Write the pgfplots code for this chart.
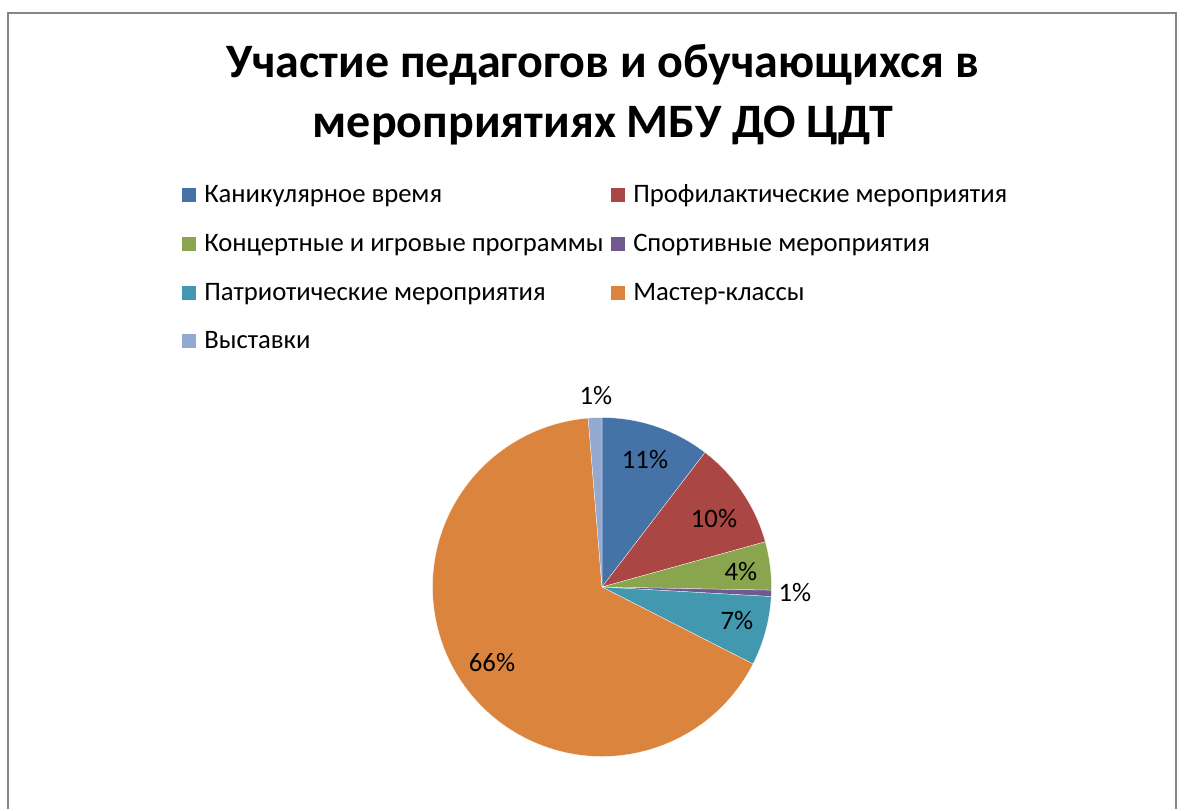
\documentclass[border=0pt]{standalone}
\usepackage{pgfplots}
\pgfplotsset{compat=1.18}
\usepackage{fontspec}
\setmainfont{Carlito}
\definecolor{cA}{HTML}{4572A7}
\definecolor{cB}{HTML}{AA4643}
\definecolor{cC}{HTML}{89A54E}
\definecolor{cD}{HTML}{71588F}
\definecolor{cE}{HTML}{4198AF}
\definecolor{cF}{HTML}{DB843D}
\definecolor{cG}{HTML}{93A9CF}
\definecolor{frame}{HTML}{868686}
\begin{document}
\begin{tikzpicture}
\begin{axis}[scale only axis, width=888pt, height=606.75pt,
  xmin=0, xmax=1184, ymin=0, ymax=809, y dir=reverse, hide axis, clip=false]
\path (axis cs:0,0) rectangle (axis cs:1184,809);
\draw[color=frame, line width=1.5pt] (axis cs:8,809) -- (axis cs:8,13) -- (axis cs:1176,13) -- (axis cs:1176,809);
\node[font=\bfseries\fontsize{36}{45}\selectfont, align=center] at (axis cs:603,95) {Участие педагогов и обучающихся в\\мероприятиях МБУ ДО ЦДТ};
% pie slices (percent values)
\xdef\cum{0}
\foreach \v/\c in {10.4/cA,10.3/cB,4.6/cC,0.6/cD,6.6/cE,66.2/cF,1.3/cG} {
  \pgfmathsetmacro\a{90-3.6*\cum}
  \pgfmathsetmacro\b{90-3.6*(\cum+\v)}
  \edef\tmp{\noexpand\fill[\c, draw=white, line width=0.2pt] (axis cs:602,587) -- ++(\a:127.1pt) arc[start angle=\a, end angle=\b, radius=127.1pt] -- cycle;}
  \tmp
  \pgfmathsetmacro\n{\cum+\v}
  \xdef\cum{\n}
}
% legend
\tikzset{lt/.style={anchor=base west, inner sep=0pt, font=\fontsize{20}{22}\selectfont}}
\fill[cA] (axis cs:182,188) rectangle (axis cs:196,202);
\node[lt] at (axis cs:204,202) {Каникулярное время};
\fill[cB] (axis cs:611,188) rectangle (axis cs:625,202);
\node[lt] at (axis cs:633,202) {Профилактические мероприятия};
\fill[cC] (axis cs:182,237) rectangle (axis cs:196,251);
\node[lt] at (axis cs:204,251) {Концертные и игровые программы};
\fill[cD] (axis cs:611,237) rectangle (axis cs:625,251);
\node[lt] at (axis cs:633,251) {Спортивные мероприятия};
\fill[cE] (axis cs:182,286) rectangle (axis cs:196,300);
\node[lt] at (axis cs:204,300) {Патриотические мероприятия};
\fill[cF] (axis cs:611,286) rectangle (axis cs:625,300);
\node[lt] at (axis cs:633,300) {Мастер-классы};
\fill[cG] (axis cs:182,334) rectangle (axis cs:196,348);
\node[lt] at (axis cs:204,348) {Выставки};
% data labels
\tikzset{dl/.style={anchor=center, inner sep=0pt, font=\fontsize{20}{22}\selectfont}}
\node[dl] at (axis cs:645,460) {11\%};
\node[dl] at (axis cs:714,519) {10\%};
\node[dl] at (axis cs:741,572) {4\%};
\node[dl] at (axis cs:795,593) {1\%};
\node[dl] at (axis cs:737,621) {7\%};
\node[dl] at (axis cs:492,663) {66\%};
\node[dl] at (axis cs:596,396) {1\%};
\end{axis}
\end{tikzpicture}
\end{document}
